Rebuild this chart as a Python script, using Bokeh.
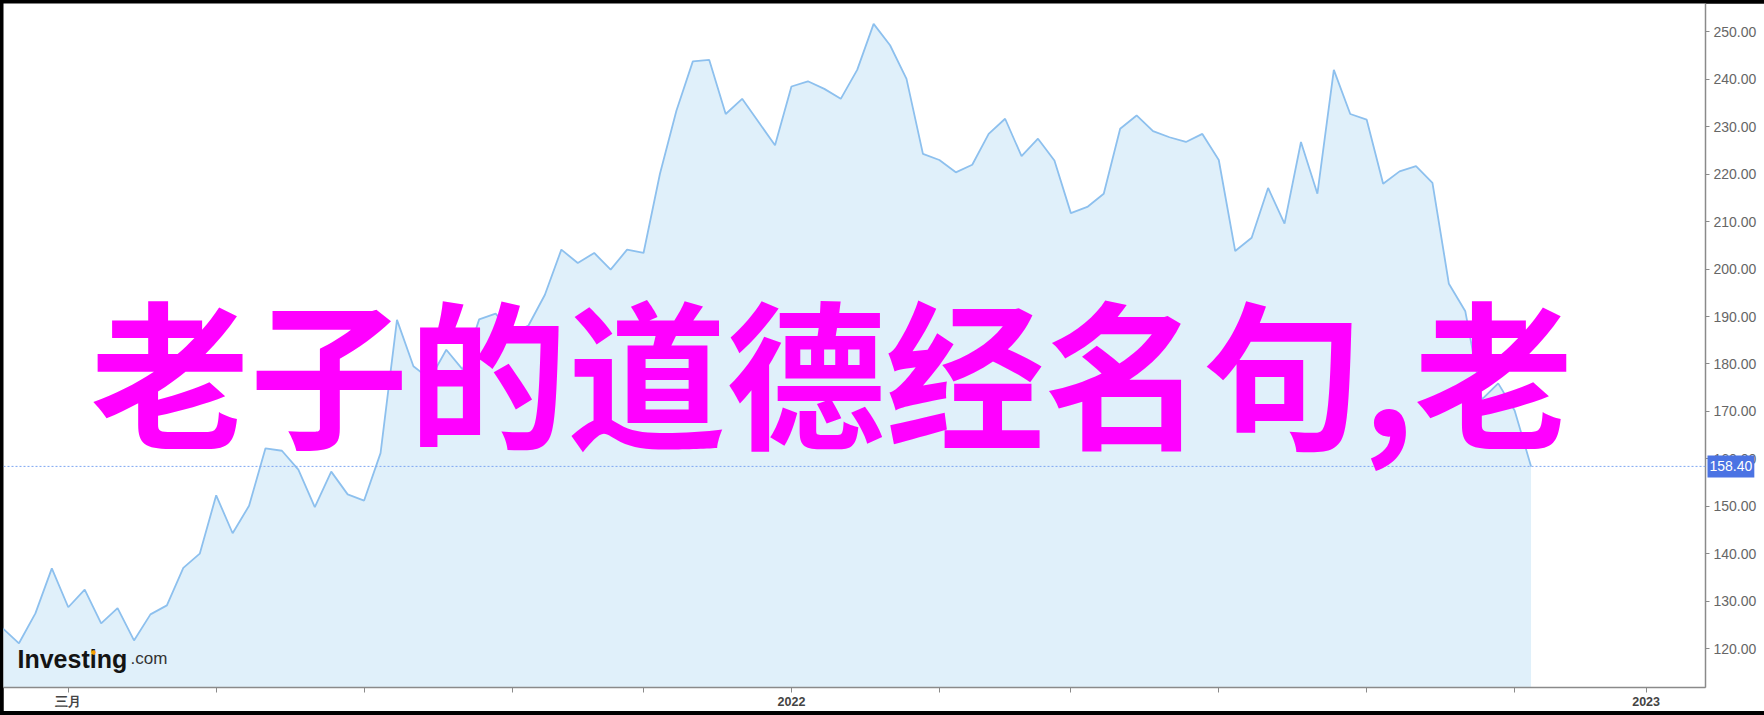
import pandas as pd
from bokeh.plotting import figure
from bokeh.layouts import column
from bokeh.models import Range1d, FixedTicker, NumeralTickFormatter, CustomJSTickFormatter, Span, Label
from bokeh.embed import file_html
from bokeh.resources import INLINE

# ---- data (weekly closes) ----
prices = [124.3, 121.1, 127.4, 136.9, 128.7, 132.4, 125.3, 128.5, 121.7, 127.2,
          129.1, 137.0, 140.0, 152.3, 144.3, 150.1, 162.2, 161.7, 157.7, 149.8,
          157.3, 152.5, 151.2, 161.2, 189.3, 179.5, 176.8, 183.0, 178.8, 189.4,
          190.6, 186.5, 188.1, 194.6, 204.1, 201.3, 203.4, 199.9, 204.1, 203.4,
          220.1, 233.4, 243.8, 244.1, 232.7, 235.9, 231.0, 226.1, 238.5, 239.6,
          238.0, 235.9, 242.0, 251.7, 247.2, 240.1, 224.3, 223.0, 220.4, 222.0,
          228.5, 231.7, 223.8, 227.5, 222.9, 211.8, 213.1, 215.9, 229.6, 232.4,
          229.1, 227.8, 226.8, 228.5, 223.0, 203.8, 206.6, 217.1, 209.6, 226.8,
          215.9, 242.0, 232.7, 231.5, 218.0, 220.6, 221.7, 218.2, 196.9, 191.1,
          172.5, 175.9, 170.2, 158.4]
last_date = "2022-11-12"
last_price = 158.40
last_price_text = "158.40"

y_ticks = [120, 130, 140, 150, 160, 170, 180, 190, 200, 210, 220, 230, 240, 250]
# weekly bars that open each two-month block
x_tick_dates = ["2021-02-27", "2021-05-01", "2021-07-03", "2021-09-04", "2021-10-30",
                "2022-01-01", "2022-03-05", "2022-04-30", "2022-07-02", "2022-09-03",
                "2022-11-05", "2022-12-31"]
x_tick_labels = ["三月", "", "", "", "", "2022", "", "", "", "", "", "2023"]

overlay_text = "老子的道德经名句,老"
logo_main = "Investing"
logo_suffix = ".com"


def to_ms(d):
    return pd.Timestamp(d).value / 1e6


dates = pd.date_range(end=last_date, periods=len(prices), freq="7D")
xs = [to_ms(d) for d in dates]
x_ticks = [to_ms(d) for d in x_tick_dates]

y_lo, y_hi = 111.78, 256.0
x_lo, x_hi = to_ms("2021-01-30 10:00"), to_ms("2023-01-25 07:00")

p = figure(frame_width=1702, frame_height=684,
           x_range=Range1d(x_lo, x_hi), y_range=Range1d(y_lo, y_hi),
           y_axis_location="right", output_backend="svg", toolbar_location=None,
           min_border_left=0, min_border_top=0, min_border_right=55, min_border_bottom=23,
           background_fill_color="white", border_fill_color="white")
p.outline_line_color = None
p.grid.visible = False

p.varea(x=xs, y1=y_lo, y2=prices, fill_color="#e0f0fa", fill_alpha=1.0)
p.line(x=xs, y=prices, line_color="#8dc0ee", line_width=1.8)

p.add_layout(Span(location=last_price, dimension="width", line_color="#7ea6f2",
                  line_dash="2 2", line_width=1))

# x axis
xa = p.xaxis[0]
xa.ticker = FixedTicker(ticks=x_ticks)
xa.formatter = CustomJSTickFormatter(args=dict(vals=x_ticks, labs=x_tick_labels), code="""
for (let i = 0; i < vals.length; i++) { if (Math.abs(vals[i] - tick) < 1000) return labs[i]; }
return '';
""")
xa.axis_line_color = "#8a8a8a"
xa.axis_line_width = 1.5
xa.major_tick_line_color = "#8a8a8a"
xa.major_tick_out = 5
xa.major_tick_in = 0
xa.minor_tick_line_color = None
xa.major_label_text_font = "Liberation Sans"
xa.major_label_text_font_size = "12.5px"
xa.major_label_text_font_style = "bold"
xa.major_label_text_color = "#444444"
xa.major_label_standoff = 2

# y axis (right)
ya = p.yaxis[0]
ya.ticker = FixedTicker(ticks=y_ticks)
ya.formatter = NumeralTickFormatter(format="0.00")
ya.axis_line_color = "#8a8a8a"
ya.axis_line_width = 1.5
ya.major_tick_line_color = "#8a8a8a"
ya.major_tick_out = 4
ya.major_tick_in = 0
ya.minor_tick_line_color = None
ya.major_label_text_font = "Liberation Sans"
ya.major_label_text_font_size = "14px"
ya.major_label_text_color = "#666666"
ya.major_label_standoff = 4

# last price box (in the right side panel so it is not clipped to the frame)
p.add_layout(Label(x=x_hi, y=last_price, text=last_price_text, x_offset=2,
                   text_align="left", text_baseline="middle",
                   text_font="Liberation Sans", text_font_size="14px",
                   text_color="white", background_fill_color="#4b73e3",
                   padding=(2, 6)), "right")

# logo
p.add_layout(Label(x=14, y=29, x_units="screen", y_units="screen", text=logo_main,
                   text_font="Liberation Sans", text_font_size="25px",
                   text_font_style="bold", text_color="#141414",
                   text_baseline="alphabetic"))
p.add_layout(Label(x=127, y=29, x_units="screen", y_units="screen", text=logo_suffix,
                   text_font="Liberation Sans", text_font_size="17px",
                   text_color="#333333", text_baseline="alphabetic"))
p.add_layout(Label(x=90, y=36, x_units="screen", y_units="screen", text="●",
                   text_font="DejaVu Sans", text_font_size="6px",
                   text_color="#f5a000", text_align="center", text_baseline="middle"))

# overlay text
p.add_layout(Label(x=87, y=320, x_units="screen", y_units="screen", text=overlay_text,
                   text_font="Noto Sans CJK SC", text_font_size="159px",
                   text_font_style="bold", text_color="#ff00ff",
                   text_baseline="alphabetic"))

page = column(p, styles={"background-color": "black", "padding": "3px 4px 5px 3px"})

open("out.html", "w").write(file_html(page, INLINE))
